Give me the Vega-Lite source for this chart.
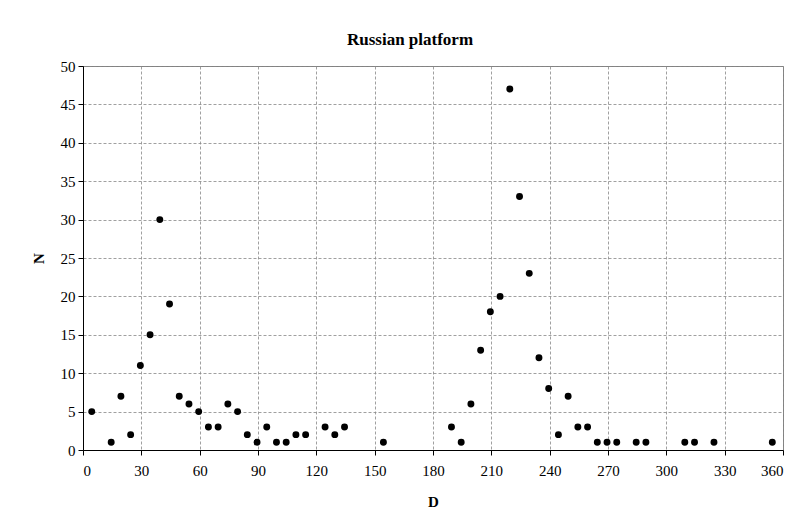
{
  "$schema": "https://vega.github.io/schema/vega-lite/v6.json",
  "width": 700,
  "height": 384,
  "autosize": "none",
  "padding": {"left": 83, "top": 66, "right": 17, "bottom": 79},
  "background": "white",
  "title": {
    "text": "Russian platform",
    "font": "Times New Roman, Liberation Serif, serif",
    "fontSize": 17,
    "fontWeight": "bold",
    "color": "black",
    "anchor": "middle",
    "dx": -23,
    "offset": 10
  },
  "config": {
    "view": {"stroke": "#808080", "strokeWidth": 1},
    "axis": {
      "labelFont": "Times New Roman, Liberation Serif, serif",
      "labelFontSize": 15,
      "labelColor": "black",
      "titleFont": "Times New Roman, Liberation Serif, serif",
      "titleFontSize": 15,
      "titleFontWeight": "bold",
      "titleColor": "black",
      "domainColor": "black",
      "tickColor": "black",
      "tickSize": 5,
      "gridColor": "#888888",
      "gridDash": [3, 2],
      "gridWidth": 0.8
    }
  },
  "data": {
    "values": [
      {"D": 4.5, "N": 5}, {"D": 14.5, "N": 1}, {"D": 19.5, "N": 7}, {"D": 24.5, "N": 2},
      {"D": 29.5, "N": 11}, {"D": 34.5, "N": 15}, {"D": 39.5, "N": 30}, {"D": 44.5, "N": 19},
      {"D": 49.5, "N": 7}, {"D": 54.5, "N": 6}, {"D": 59.5, "N": 5}, {"D": 64.5, "N": 3},
      {"D": 69.5, "N": 3}, {"D": 74.5, "N": 6}, {"D": 79.5, "N": 5}, {"D": 84.5, "N": 2},
      {"D": 89.5, "N": 1}, {"D": 94.5, "N": 3}, {"D": 99.5, "N": 1}, {"D": 104.5, "N": 1},
      {"D": 109.5, "N": 2}, {"D": 114.5, "N": 2}, {"D": 124.5, "N": 3}, {"D": 129.5, "N": 2},
      {"D": 134.5, "N": 3}, {"D": 154.5, "N": 1},
      {"D": 189.5, "N": 3}, {"D": 194.5, "N": 1}, {"D": 199.5, "N": 6}, {"D": 204.5, "N": 13},
      {"D": 209.5, "N": 18}, {"D": 214.5, "N": 20}, {"D": 219.5, "N": 47}, {"D": 224.5, "N": 33},
      {"D": 229.5, "N": 23}, {"D": 234.5, "N": 12}, {"D": 239.5, "N": 8}, {"D": 244.5, "N": 2},
      {"D": 249.5, "N": 7}, {"D": 254.5, "N": 3}, {"D": 259.5, "N": 3}, {"D": 264.5, "N": 1},
      {"D": 269.5, "N": 1}, {"D": 274.5, "N": 1}, {"D": 284.5, "N": 1}, {"D": 289.5, "N": 1},
      {"D": 309.5, "N": 1}, {"D": 314.5, "N": 1}, {"D": 324.5, "N": 1}, {"D": 354.5, "N": 1}
    ]
  },
  "mark": {"type": "circle", "color": "black", "opacity": 1, "size": 48},
  "encoding": {
    "x": {
      "field": "D",
      "type": "quantitative",
      "scale": {"domain": [0, 360], "nice": false},
      "axis": {"values": [0, 30, 60, 90, 120, 150, 180, 210, 240, 270, 300, 330, 360], "title": "D", "labelPadding": 8, "titlePadding": 16}
    },
    "y": {
      "field": "N",
      "type": "quantitative",
      "scale": {"domain": [0, 50], "nice": false},
      "axis": {"values": [0, 5, 10, 15, 20, 25, 30, 35, 40, 45, 50], "title": "N", "labelPadding": 3, "titlePadding": 14}
    }
  }
}
